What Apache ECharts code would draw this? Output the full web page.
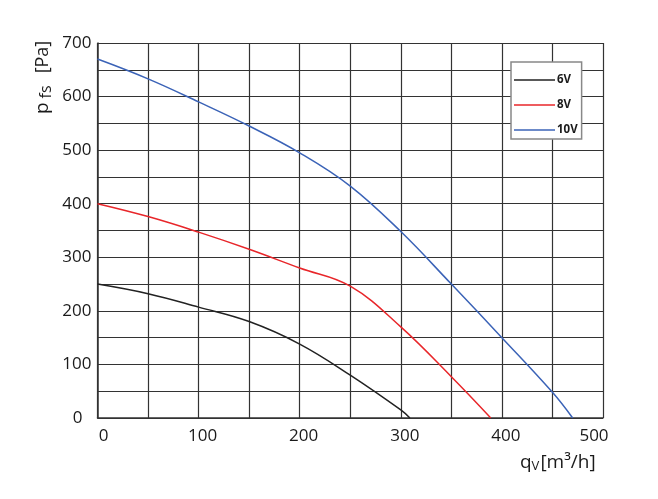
<!DOCTYPE html>
<html><head><meta charset="utf-8">
<script src="https://cdn.jsdelivr.net/npm/echarts@6/dist/echarts.min.js"></script>
<style>html,body{margin:0;padding:0;background:#fff}#c{width:658px;height:499px}</style>
</head><body><div id="c"></div>
<script>
const seriesNames = ['6V', '8V', '10V'];
const q6V  = [0, 50, 100, 150, 200, 250, 300, 309];
const p6V  = [250, 232, 207, 180, 138, 80, 15, 0];
const q8V  = [0, 50, 100, 150, 200, 250, 300, 350, 389];
const p8V  = [400, 376, 347, 315, 280, 246, 170, 77, 0];
const q10V = [0, 50, 100, 150, 200, 250, 300, 350, 400, 450, 470];
const p10V = [670, 633, 590, 545, 495, 433, 348, 250, 150, 48, 0];
const xTicks = [0, 100, 200, 300, 400, 500];
const yTicks = [0, 100, 200, 300, 400, 500, 600, 700];
const colors = ['#222222', '#e8262a', '#3b63b7'];

const zip = (a, b) => a.map((v, i) => [v, b[i]]);
const font = '"Open Sans", sans-serif';
const lbl = { fontFamily: font, fontSize: 17, color: '#1a1a1a' };
const chart = echarts.init(document.getElementById('c'));
chart.setOption({
  animation: false,
  grid: { left: 97.5, right: 55, top: 43, bottom: 81, containLabel: false },
  xAxis: {
    type: 'value', min: 0, max: 500, interval: 50,
    axisLine: { show: true, lineStyle: { color: '#333', width: 1.5 } },
    axisTick: { show: false },
    splitLine: { show: true, lineStyle: { color: '#333', width: 1.2 } },
    axisLabel: { ...lbl, margin: 10,
      formatter: v => !xTicks.includes(v) ? '' : (v === 0 ? '{z|0}' : v === 500 ? '{m|500}' : '{n|' + v + '}'),
      rich: { n: { ...lbl, padding: [0, 0, 0, 8] }, z: { ...lbl, padding: [0, 0, 0, 12] }, m: { ...lbl, padding: [0, 18, 0, 0] } } }
  },
  yAxis: {
    type: 'value', min: 0, max: 700, interval: 50,
    axisLine: { show: true, lineStyle: { color: '#333', width: 1.5 } },
    axisTick: { show: false },
    splitLine: { show: true, lineStyle: { color: '#333', width: 1.2 } },
    axisLabel: { ...lbl, margin: 6,
      formatter: v => !yTicks.includes(v) ? '' : (v === 0 ? '{z|0}' : '{n|' + v + '}'),
      rich: { n: { ...lbl }, z: { ...lbl, padding: [0, 9, 0, 0] } } }
  },
  legend: {
    show: true, orient: 'vertical', left: 511, top: 62,
    backgroundColor: '#fff', borderColor: '#888', borderWidth: 1.5, borderRadius: 0,
    padding: [12, 4, 3, 3], itemGap: 13, itemWidth: 41, itemHeight: 10,
    icon: 'path://M0,0L41,0L41,1.6L0,1.6Z',
    textStyle: { fontFamily: font, fontSize: 11.5, fontWeight: 'bold', color: '#1a1a1a', padding: [0, 0, 0, -3] },
    data: seriesNames
  },
  graphic: [
    { type: 'text', x: 32, y: 114, rotation: Math.PI / 2,
      style: { text: '{a|p}{s|fs}{b|[Pa]}', fill: '#1a1a1a',
        rich: { a: { fontFamily: font, fontSize: 19, fill: '#1a1a1a' },
                s: { fontFamily: font, fontSize: 16, fill: '#1a1a1a', padding: [6, 0, 0, 4] },
                b: { fontFamily: font, fontSize: 18, fill: '#1a1a1a', padding: [0, 0, 0, 12] } } } },
    { type: 'text', x: 520, y: 452,
      style: { text: '{a|q}{s|V}{a|[m³/h]}', fill: '#1a1a1a',
        rich: { a: { fontFamily: font, fontSize: 19, fill: '#1a1a1a' },
                s: { fontFamily: font, fontSize: 13, fill: '#1a1a1a', padding: [8, 1, 0, 0] } } } }
  ],
  series: [
    { name: seriesNames[0], type: 'line', smooth: 0.4, symbol: 'none', data: zip(q6V, p6V), lineStyle: { color: colors[0], width: 1.5 }, itemStyle: { color: colors[0] } },
    { name: seriesNames[1], type: 'line', smooth: 0.4, symbol: 'none', data: zip(q8V, p8V), lineStyle: { color: colors[1], width: 1.5 }, itemStyle: { color: colors[1] } },
    { name: seriesNames[2], type: 'line', smooth: 0.4, symbol: 'none', data: zip(q10V, p10V), lineStyle: { color: colors[2], width: 1.5 }, itemStyle: { color: colors[2] } }
  ]
});
</script></body></html>
